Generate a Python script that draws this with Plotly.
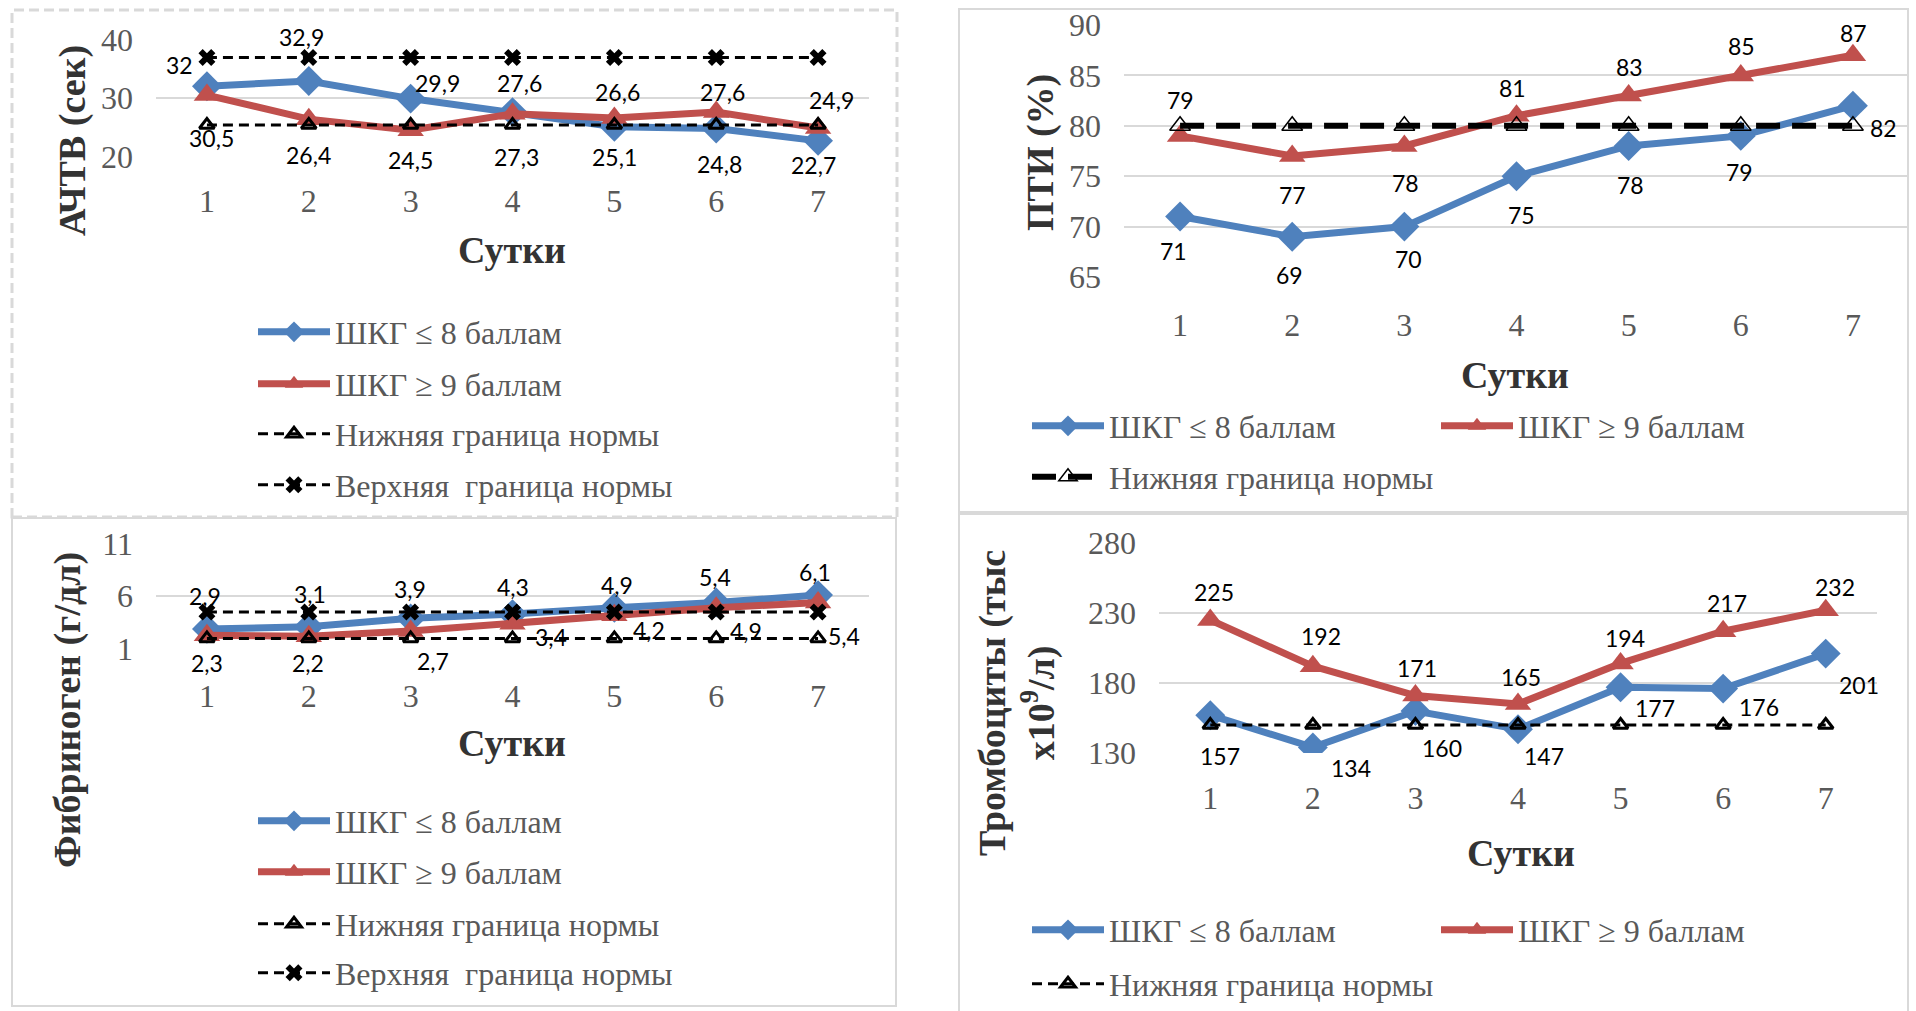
import plotly.graph_objects as go

W, H = 1916, 1011

# ---------------------------------------------------------------- data
days = [1, 2, 3, 4, 5, 6, 7]
day_labels = ["1", "2", "3", "4", "5", "6", "7"]

# АЧТВ, сек
aptt_le8 = [32, 32.9, 29.9, 27.6, 25.1, 24.8, 22.7]
aptt_ge9 = [30.5, 26.4, 24.5, 27.3, 26.6, 27.6, 24.9]
aptt_norm_lo = [25.4, 25.4, 25.4, 25.4, 25.4, 25.4, 25.4]
aptt_norm_hi = [36.9, 36.9, 36.9, 36.9, 36.9, 36.9, 36.9]
aptt_ticks = [20, 30, 40]

# ПТИ, %
pti_le8 = [71, 69, 70, 75, 78, 79, 82]
pti_ge9 = [79, 77, 78, 81, 83, 85, 87]
pti_norm_lo = [80, 80, 80, 80, 80, 80, 80]
pti_ticks = [65, 70, 75, 80, 85, 90]

# Фибриноген, г/дл
fib_le8 = [2.9, 3.1, 3.9, 4.3, 4.9, 5.4, 6.1]
fib_ge9 = [2.3, 2.2, 2.7, 3.4, 4.2, 4.9, 5.4]
fib_norm_lo = [2, 2, 2, 2, 2, 2, 2]
fib_norm_hi = [4.5, 4.5, 4.5, 4.5, 4.5, 4.5, 4.5]
fib_ticks = [1, 6, 11]

# Тромбоциты, тыс x10^9/л
plt_le8 = [157, 134, 160, 147, 177, 176, 201]
plt_ge9 = [225, 192, 171, 165, 194, 217, 232]
plt_norm_lo = [150, 150, 150, 150, 150, 150, 150]
plt_ticks = [130, 180, 230, 280]

name_le8 = "ШКГ ≤ 8 баллам"
name_ge9 = "ШКГ ≥ 9 баллам"
name_lo = "Нижняя граница нормы"
name_hi = "Верхняя  граница нормы"

# ---------------------------------------------------------------- styling
BLUE = "#4F81BD"
RED = "#C0504D"
GRID = "#D9D9D9"
SERIF = "Liberation Serif, Times New Roman, serif"
LABEL_FONT = dict(family="Lato, Calibri, sans-serif", size=23, color="black")
TICK_FONT = dict(family=SERIF, size=32, color="#595959")
TITLE_FONT = dict(family=SERIF, size=38, color="#333333", weight="bold")
LEGEND_FONT = dict(family=SERIF, size=32, color="#595959")

# value label offsets in px (right, down) per point
aptt_le8_off = [(-27, -21), (-7, -44), (27, -16), (7, -29), (0, 30), (3, 35), (-5, 24)]
aptt_ge9_off = [(5, 43), (0, 36), (0, 30), (4, 43), (3, -26), (6, -20), (13, -28)]
pti_le8_off = [(-7, 34), (-3, 38), (4, 32), (5, 39), (2, 39), (-1, 36), (31, 22)]
pti_ge9_off = [(0, -36), (0, 39), (1, 37), (-4, -28), (1, -29), (1, -29), (1, -22)]
fib_le8_off = [(-2, -33), (1, -33), (-1, -29), (0, -27), (3, -23), (-1, -25), (-3, -23)]
fib_ge9_off = [(0, 28), (-1, 27), (22, 30), (38, 13), (35, 15), (30, 23), (26, 34)]
plt_le8_off = [(10, 41), (38, 21), (27, 37), (26, 27), (34, 21), (36, 18), (33, 31)]
plt_ge9_off = [(4, -28), (8, -30), (2, -28), (3, -27), (4, -25), (4, -28), (9, -23)]


def px(x):
    return x / W


def py(y):
    return 1 - y / H


def fmt(v):
    return f"{v:g}".replace(".", ",")


fig = go.Figure()
layout = dict(annotations=[], shapes=[])
legend_no = [0]


def new_legend(x_sym, y_row):
    legend_no[0] += 1
    key = "legend" if legend_no[0] == 1 else f"legend{legend_no[0]}"
    layout[key] = dict(
        x=px(x_sym - 5), y=py(y_row), xanchor="left", yanchor="middle",
        bgcolor="rgba(0,0,0,0)", borderwidth=0, font=LEGEND_FONT,
        itemwidth=72, orientation="v",
    )
    return key


def panel(idx, xdom, ydom, yrange, ticks, series, norms, legend_pos, x_title, y_title, x_standoff):
    sfx = "" if idx == 1 else str(idx)
    xa, ya = "x" + sfx, "y" + sfx
    layout["xaxis" + sfx] = dict(
        domain=[px(xdom[0]), px(xdom[1])], range=[0.5, 7.5], anchor=ya,
        tickmode="array", tickvals=days, ticktext=day_labels, tickfont=TICK_FONT,
        showgrid=False, zeroline=False, showline=False, ticks="",
        ticklabelstandoff=x_standoff, fixedrange=True, automargin=False,
    )
    layout["yaxis" + sfx] = dict(
        domain=[py(ydom[1]), py(ydom[0])], range=list(yrange), anchor=xa,
        tickmode="array", tickvals=ticks, tickfont=TICK_FONT,
        showgrid=True, gridcolor=GRID, gridwidth=2, zeroline=False,
        showline=False, ticks="", ticklabelstandoff=22, fixedrange=True,
        automargin=False,
    )
    li = 0
    for values, name, color, symbol, offs in series:
        fig.add_trace(go.Scatter(
            x=days, y=values, name=name, xaxis=xa, yaxis=ya,
            mode="lines+markers",
            line=dict(color=color, width=7),
            marker=dict(symbol=symbol, size=23, color=color),
            legend=new_legend(*legend_pos[li]), hoverinfo="skip",
        ))
        li += 1
        for d, v, (dx, dy) in zip(days, values, offs):
            layout["annotations"].append(dict(
                x=d, y=v, xref=xa, yref=ya, text=fmt(v), showarrow=False,
                xshift=dx, yshift=-dy, font=LABEL_FONT,
            ))
    for values, name, line_w, dash, marker in norms:
        fig.add_trace(go.Scatter(
            x=days, y=values, name=name, xaxis=xa, yaxis=ya,
            mode="lines+markers",
            line=dict(color="black", width=line_w, dash=dash),
            marker=marker,
            legend=new_legend(*legend_pos[li]), hoverinfo="skip",
        ))
        li += 1
    # axis titles
    layout["annotations"].append(dict(
        x=px(x_title[0]), y=py(x_title[1]), xref="paper", yref="paper",
        text="Сутки", showarrow=False, font=TITLE_FONT,
        xanchor="center", yanchor="middle",
    ))
    layout["annotations"].append(dict(
        x=px(y_title[1]), y=py(y_title[2]), xref="paper", yref="paper",
        text=y_title[0], showarrow=False, font=TITLE_FONT, textangle=-90,
        xanchor="center", yanchor="middle",
    ))


lo_mark = dict(symbol="triangle-up-open", size=13, color="black", line=dict(width=3, color="black"))
hi_mark = dict(symbol="x", size=15, color="black", line=dict(width=0))
pti_mark = dict(symbol="triangle-up-open", size=18, color="black", line=dict(width=1.5, color="black"))
THIN_DASH = "10px,6px"

# panel frames (drawn first so plots sit above)
layout["shapes"] += [
    dict(type="rect", xref="paper", yref="paper", x0=px(12), x1=px(896), y0=py(1006), y1=py(518),
         line=dict(color=GRID, width=2), layer="below"),
    dict(type="rect", xref="paper", yref="paper", x0=px(12), x1=px(897), y0=py(517), y1=py(10),
         line=dict(color=GRID, width=3, dash="10px,5px"), layer="below"),
    dict(type="rect", xref="paper", yref="paper", x0=px(959), x1=px(1908), y0=py(512), y1=py(9),
         line=dict(color=GRID, width=2), layer="below"),
    dict(type="rect", xref="paper", yref="paper", x0=px(959), x1=px(1908), y0=py(1020), y1=py(514),
         line=dict(color=GRID, width=2), layer="below"),
]

panel(
    1, (156, 869), (39.3, 156.7), (20, 40), aptt_ticks,
    [(aptt_le8, name_le8, BLUE, "diamond", aptt_le8_off),
     (aptt_ge9, name_ge9, RED, "triangle-up", aptt_ge9_off)],
    [(aptt_norm_lo, name_lo, 3, THIN_DASH, lo_mark),
     (aptt_norm_hi, name_hi, 3, THIN_DASH, hi_mark)],
    [(258, 332), (258, 384), (258, 434), (258, 485)],
    (512, 250), ("АЧТВ (сек)", 72, 141), 22,
)
panel(
    2, (1124, 1909), (25, 277), (65, 90), pti_ticks,
    [(pti_le8, name_le8, BLUE, "diamond", pti_le8_off),
     (pti_ge9, name_ge9, RED, "triangle-up", pti_ge9_off)],
    [(pti_norm_lo, name_lo, 6, "24px,12px", pti_mark)],
    [(1032, 426), (1441, 426), (1032, 477)],
    (1515, 375), ("ПТИ (%)", 1040, 153), 26,
)
panel(
    3, (156, 869), (543.3, 649), (1, 11), fib_ticks,
    [(fib_le8, name_le8, BLUE, "diamond", fib_le8_off),
     (fib_ge9, name_ge9, RED, "triangle-up", fib_ge9_off)],
    [(fib_norm_lo, name_lo, 3, THIN_DASH, lo_mark),
     (fib_norm_hi, name_hi, 3, THIN_DASH, hi_mark)],
    [(258, 821), (258, 872), (258, 924), (258, 973)],
    (512, 743), ("Фибриноген (г/дл)", 67, 710), 25,
)
panel(
    4, (1159, 1877), (543, 753), (130, 280), plt_ticks,
    [(plt_le8, name_le8, BLUE, "diamond", plt_le8_off),
     (plt_ge9, name_ge9, RED, "triangle-up", plt_ge9_off)],
    [(plt_norm_lo, name_lo, 3, THIN_DASH, lo_mark)],
    [(1032, 930), (1441, 930), (1032, 984)],
    (1521, 853), ("Тромбоциты (тыс<br>x10<sup>9</sup>/л)", 1017, 703), 23,
)

fig.update_layout(
    width=W, height=H,
    margin=dict(l=0, r=0, t=0, b=0, autoexpand=False),
    paper_bgcolor="white", plot_bgcolor="white",
    showlegend=True,
    **layout,
)

fig.write_html("out.html", config={"displayModeBar": False})
